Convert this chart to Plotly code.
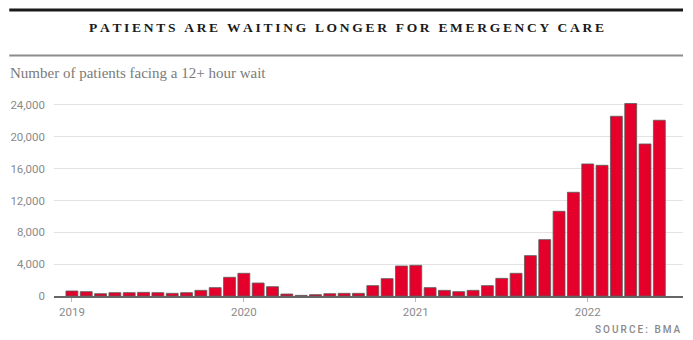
import plotly.graph_objects as go

months = [f"{y}-{m:02d}" for y in range(2019, 2023) for m in range(1, 13)][:42]
patients = [
    630, 545, 290, 420, 420, 460, 420, 335, 420, 710, 1050, 2350,   # 2019
    2850, 1630, 1170, 250, 80, 170, 290, 335, 335, 1300, 2180, 3770,  # 2020
    3850, 1050, 710, 545, 710, 1300, 2220, 2850, 5070, 7080, 10640, 13030,  # 2021
    16590, 16420, 22580, 24180, 19100, 22080,  # 2022
]
tick_labels = ["2019", "2020", "2021", "2022"]
y_ticks = [0, 4000, 8000, 12000, 16000, 20000, 24000]

title = "PATIENTS ARE WAITING LONGER FOR EMERGENCY CARE"
subtitle = "Number of patients facing a 12+ hour wait"
source = "SOURCE: BMA"


def spaced(s, sep="\u2009"):
    return sep.join(s).replace(sep + " " + sep, " \u2009\u2009")


x_idx = list(range(len(patients)))

PW, PH, L, T = 633, 199, 50, 97


def px(x):
    return (x - L) / PW


def py(y):
    return 1 + (T - y) / PH


fig = go.Figure(
    go.Bar(
        x=x_idx,
        y=patients,
        marker=dict(color="#e5002b", line=dict(color="#5a5a5a", width=0.8)),
        hoverinfo="skip",
    )
)

fig.update_layout(
    width=693,
    height=340,
    margin=dict(l=L, r=10, t=T, b=44),
    paper_bgcolor="white",
    plot_bgcolor="white",
    bargap=0.17,
    showlegend=False,
    font=dict(family="Roboto", color="#8a8a8a", size=11),
    xaxis=dict(
        range=[-1.25, 42.65],
        tickvals=[0, 12, 24, 36],
        ticktext=tick_labels,
        ticks="outside",
        ticklen=4,
        tickcolor="#bbbbbb",
        showgrid=False,
        showline=True,
        linecolor="#666666",
        linewidth=1.5,
        tickfont=dict(family="Roboto", size=11.5, color="#8a8a8a"),
        zeroline=False,
        fixedrange=True,
    ),
    yaxis=dict(
        range=[0, 25000],
        tickvals=y_ticks,
        tickformat=",d",
        showgrid=True,
        gridcolor="#e3e3e3",
        gridwidth=1,
        zeroline=False,
        ticks="",
        ticklabelstandoff=8,
        tickfont=dict(family="Roboto", size=11.5, color="#8a8a8a"),
        fixedrange=True,
    ),
    shapes=[
        dict(type="line", xref="paper", yref="paper", x0=px(5), x1=px(683),
             y0=py(10), y1=py(10),
             line=dict(color="#1a1a1a", width=3)),
        dict(type="line", xref="paper", yref="paper", x0=px(5), x1=px(683),
             y0=py(55.5), y1=py(55.5),
             line=dict(color="#8c8c8c", width=2)),
    ],
    annotations=[
        dict(text=spaced(title), xref="paper", yref="paper",
             x=px(344), y=py(28), xanchor="center", yanchor="middle",
             showarrow=False,
             font=dict(family="Liberation Serif", size=13.5, color="#1a1a1a", weight="bold")),
        dict(text=subtitle, xref="paper", yref="paper",
             x=px(4), y=py(72.5), xanchor="left", yanchor="middle",
             showarrow=False,
             font=dict(family="Liberation Serif", size=15, color="#7a7a7a")),
        dict(text=spaced(source), xref="paper", yref="paper",
             x=1.0, y=py(329), xanchor="right", yanchor="middle",
             showarrow=False,
             font=dict(family="Roboto", size=10, color="#8a8a8a", weight=500)),
    ],
)

fig.write_html("out.html")
